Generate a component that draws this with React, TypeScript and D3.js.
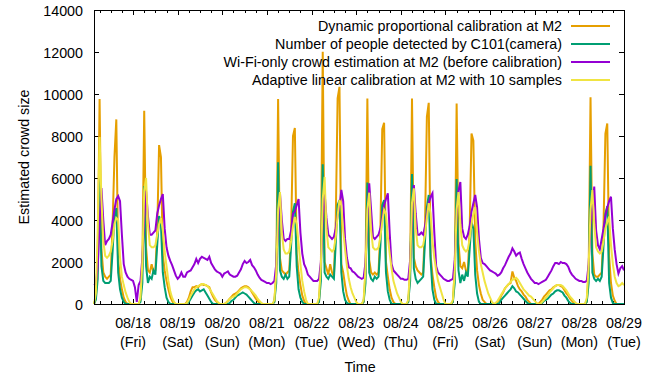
import React from 'react';
import * as d3 from 'd3';

// hourly samples, 2017-08-17 03:00 .. 2017-08-29 00:00
const startTime = new Date(2017, 7, 17, 3);
const endTime = new Date(2017, 7, 29, 0);

const dayLabels = ['08/18', '08/19', '08/20', '08/21', '08/22', '08/23', '08/24', '08/25', '08/26', '08/27', '08/28', '08/29'];
const weekdayLabels = ['(Fri)', '(Sat)', '(Sun)', '(Mon)', '(Tue)', '(Wed)', '(Thu)', '(Fri)', '(Sat)', '(Sun)', '(Mon)', '(Tue)'];
const yTicks = [0, 2000, 4000, 6000, 8000, 10000, 12000, 14000];

const seriesNames = [
  'Dynamic proportional calibration at M2',
  'Number of people detected by C101(camera)',
  'Wi-Fi-only crowd estimation at M2 (before calibration)',
  'Adaptive linear calibration at M2 with 10 samples',
];
const seriesColors = ['#e69f00', '#009e73', '#9400d3', '#f0e442'];

const dynamicM2 = [
  /* 17 */ 0, 300, 2000, 9760, 2600, 1500, 1300, 1200, 1300, 1400, 3800, 7000, 8790, 2100, 1200, 700, 300, 100, 0, 0, 0,
  /* 18 */ 0, 0, 0, 0, 200, 1800, 9200, 2700, 1600, 1500, 1900, 1500, 1600, 3500, 7570, 7000, 2300, 1600, 1100, 700, 350, 150, 0, 0,
  /* 19 */ 0, 0, 0, 0, 0, 100, 300, 600, 800, 800, 850, 800, 900, 950, 900, 900, 850, 800, 550, 350, 200, 100, 0, 0,
  /* 20 */ 0, 0, 50, 150, 250, 350, 450, 500, 550, 650, 750, 800, 850, 850, 800, 700, 550, 400, 250, 150, 50, 0, 0, 0,
  /* 21 */ 0, 0, 0, 0, 100, 1500, 9760, 2200, 1600, 1500, 1400, 1500, 1600, 3500, 8000, 8380, 2400, 1500, 900, 400, 150, 0, 0, 0,
  /* 22 */ 0, 0, 0, 0, 100, 1800, 12010, 2000, 1700, 1400, 1900, 1500, 1300, 4000, 9790, 10340, 1900, 1500, 900, 400, 150, 0, 0, 0,
  /* 23 */ 0, 0, 0, 0, 100, 1500, 9790, 2100, 1500, 1400, 1500, 1400, 1500, 3500, 8330, 8630, 2000, 1300, 700, 300, 100, 0, 0, 0,
  /* 24 */ 0, 0, 0, 0, 100, 1600, 9790, 2200, 1800, 1600, 1500, 1400, 1500, 3800, 8910, 9580, 2300, 1400, 800, 300, 100, 0, 0, 0,
  /* 25 */ 0, 0, 0, 0, 100, 1700, 9550, 2900, 1800, 1700, 2000, 1600, 1500, 3500, 8120, 7780, 3000, 1600, 900, 500, 200, 100, 0, 0,
  /* 26 */ 0, 0, 0, 0, 100, 200, 400, 550, 750, 850, 950, 1000, 1550, 1250, 1100, 850, 700, 600, 450, 350, 200, 100, 0, 0,
  /* 27 */ 0, 0, 0, 100, 200, 350, 450, 550, 650, 700, 800, 850, 900, 900, 850, 800, 650, 500, 400, 250, 150, 50, 0, 0,
  /* 28 */ 0, 0, 0, 0, 100, 1600, 9840, 2400, 1400, 1300, 1300, 1400, 1500, 3800, 8120, 8600, 2300, 1000, 400, 150, 0, 0, 0, 0,
  /* 29 */ 0,
];

const cameraC101 = [
  /* 17 */ 0, 200, 1200, 5990, 1800, 1100, 1000, 1000, 1000, 1100, 2500, 4200, 4570, 1500, 700, 300, 100, 0, 0, 0, 0,
  /* 18 */ 0, 0, 0, 0, 100, 1000, 5620, 1800, 1000, 1300, 1200, 1600, 1400, 2800, 4190, 3800, 1500, 800, 300, 100, 0, 0, 0, 0,
  /* 19 */ 0, 0, 0, 0, 0, 0, 100, 250, 400, 550, 650, 700, 600, 650, 700, 550, 400, 250, 100, 0, 0, 0, 0, 0,
  /* 20 */ 0, 0, 0, 0, 50, 150, 200, 300, 400, 450, 500, 550, 500, 450, 350, 250, 150, 50, 0, 0, 0, 0, 0, 0,
  /* 21 */ 0, 0, 0, 0, 100, 1000, 6750, 1600, 1300, 1200, 1400, 1200, 1300, 2800, 4400, 4800, 1800, 700, 300, 100, 0, 0, 0, 0,
  /* 22 */ 0, 0, 0, 0, 100, 1100, 6650, 1500, 1300, 1200, 1400, 1300, 1200, 2900, 4700, 4950, 1500, 600, 200, 50, 0, 0, 0, 0,
  /* 23 */ 0, 0, 0, 0, 100, 1000, 5780, 1500, 1200, 1100, 1300, 1200, 1300, 2800, 4700, 4950, 1500, 600, 200, 0, 0, 0, 0, 0,
  /* 24 */ 0, 0, 0, 0, 100, 1100, 6190, 1700, 1200, 1000, 1100, 1200, 1300, 3000, 4600, 5190, 2100, 700, 200, 0, 0, 0, 0, 0,
  /* 25 */ 0, 0, 0, 0, 100, 1000, 5950, 1600, 1000, 1400, 1100, 1500, 1300, 2600, 3900, 3600, 1400, 500, 100, 0, 0, 0, 0, 0,
  /* 26 */ 0, 0, 0, 0, 0, 50, 200, 300, 400, 500, 600, 700, 850, 750, 600, 550, 450, 350, 250, 150, 50, 0, 0, 0,
  /* 27 */ 0, 0, 0, 0, 50, 150, 200, 250, 350, 450, 500, 600, 650, 650, 600, 550, 400, 300, 150, 50, 0, 0, 0, 0,
  /* 28 */ 0, 0, 0, 0, 100, 1000, 6580, 1500, 1200, 1100, 1200, 1100, 1300, 2800, 4300, 4660, 1000, 300, 50, 0, 0, 0, 0, 0,
  /* 29 */ 0,
];

const wifiOnly = [
  /* 17 */ 900, 950, 1800, 3800, 5520, 4000, 2800, 3000, 3100, 3300, 3900, 4500, 5000, 5140, 4900, 3300, 1900, 1500, 1300, 1200, 1150,
  /* 18 */ 1100, 800, 100, 900, 1100, 2200, 4000, 5380, 4200, 3300, 3300, 3400, 3500, 4300, 4700, 5000, 5230, 3600, 2700, 2300, 2050, 1850, 1600, 1350,
  /* 19 */ 1200, 1300, 1500, 1300, 1300, 1500, 1550, 1600, 1750, 1900, 2150, 1950, 2150, 2250, 2200, 2150, 2100, 2250, 1950, 1800, 1650, 1550, 1500, 1450,
  /* 20 */ 1300, 1450, 1500, 1550, 1400, 1350, 1300, 1300, 1350, 1500, 1650, 1900, 2050, 1950, 2000, 2100, 1850, 1750, 1600, 1400, 1250, 1150, 1100, 1050,
  /* 21 */ 1000, 1000, 950, 1000, 1100, 1900, 3800, 5280, 4000, 3100, 3000, 3100, 3100, 3500, 4300, 4400, 4700, 5000, 3400, 2400, 1900, 1700, 1400, 1300,
  /* 22 */ 1200, 1100, 1100, 1100, 1200, 2000, 4000, 5300, 4100, 3300, 3200, 3100, 3200, 3600, 4200, 4600, 5430, 4900, 3100, 2200, 1750, 1700, 1550, 1500,
  /* 23 */ 1400, 1300, 1250, 1200, 1250, 2000, 4000, 5750, 4500, 3200, 3100, 3200, 3300, 3600, 4100, 4700, 5000, 5270, 3400, 1900, 1600, 1500, 1400, 1300,
  /* 24 */ 1200, 1200, 1150, 1150, 1200, 2100, 4100, 5660, 4300, 3300, 3300, 3400, 3300, 3700, 4300, 4800, 5100, 5270, 3400, 1800, 1500, 1400, 1300, 1200,
  /* 25 */ 1150, 1100, 1100, 1150, 1200, 2100, 4200, 5400, 5810, 3600, 3200, 3100, 3300, 3700, 4400, 4800, 5190, 4600, 3100, 2200, 1950, 1900, 1800, 1700,
  /* 26 */ 1600, 1550, 1500, 1450, 1350, 1400, 1500, 1700, 1850, 2050, 2250, 2400, 2650, 2500, 2300, 2400, 2450, 2150, 1900, 1700, 1500, 1350, 1200, 1100,
  /* 27 */ 1000, 1000, 950, 1000, 1050, 1100, 1150, 1300, 1450, 1600, 1800, 1950, 1950, 1900, 2000, 1950, 1950, 1900, 1780, 1550, 1400, 1300, 1200, 1150,
  /* 28 */ 1100, 1100, 1050, 1050, 1100, 1900, 3800, 4500, 5590, 3500, 2800, 2600, 3100, 3600, 4200, 4600, 4900, 5110, 3600, 2600, 1900, 1450, 1700, 1800,
  /* 29 */ 1600,
];

const adaptiveLinear = [
  /* 17 */ 0, 500, 3500, 7950, 5000, 3000, 2300, 2200, 2300, 2500, 3000, 3800, 4100, 4000, 2200, 1300, 900, 550, 300, 100, 0,
  /* 18 */ 0, 0, 0, 0, 300, 2000, 5400, 6000, 3800, 2800, 2700, 2700, 2800, 3300, 3800, 4090, 3500, 2500, 1800, 1100, 600, 300, 100, 0,
  /* 19 */ 0, 0, 0, 0, 0, 50, 200, 400, 550, 700, 800, 850, 900, 950, 950, 900, 850, 750, 600, 450, 300, 150, 50, 0,
  /* 20 */ 0, 0, 50, 150, 250, 300, 350, 400, 500, 600, 700, 750, 800, 800, 750, 700, 600, 500, 400, 250, 150, 50, 0, 0,
  /* 21 */ 0, 0, 0, 0, 200, 1500, 4500, 5330, 3400, 2600, 2400, 2400, 2500, 3000, 3700, 4140, 3800, 2900, 1900, 1100, 600, 200, 0, 0,
  /* 22 */ 0, 0, 0, 0, 300, 1800, 5000, 6050, 3600, 2700, 2600, 2500, 2600, 3200, 4200, 4950, 4700, 3500, 2600, 1800, 1200, 800, 500, 300,
  /* 23 */ 100, 0, 0, 0, 200, 1700, 4500, 5300, 3500, 2700, 2600, 2600, 2700, 3200, 3900, 4480, 4300, 3200, 2400, 1700, 1100, 800, 500, 300,
  /* 24 */ 100, 0, 0, 0, 200, 1800, 4800, 5510, 3600, 2800, 2700, 2700, 2800, 3300, 4100, 4800, 4300, 3000, 2200, 1600, 1100, 800, 500, 200,
  /* 25 */ 0, 0, 0, 0, 200, 1600, 4500, 5330, 3800, 2800, 2600, 2500, 2600, 3100, 3800, 4300, 4620, 3400, 2500, 1900, 1500, 1100, 800, 500,
  /* 26 */ 300, 100, 0, 50, 150, 300, 450, 600, 750, 850, 950, 1050, 1150, 1200, 1250, 1150, 1000, 850, 700, 600, 500, 400, 350, 250,
  /* 27 */ 150, 50, 0, 0, 100, 200, 300, 400, 550, 650, 750, 850, 900, 900, 900, 850, 750, 650, 500, 350, 250, 150, 50, 0,
  /* 28 */ 0, 0, 0, 0, 300, 1800, 4500, 5430, 3800, 2700, 2500, 2400, 2500, 3000, 3600, 3900, 4160, 2800, 1900, 1300, 1000, 850, 900, 1000,
  /* 29 */ 900,
];

const allSeries = [dynamicM2, cameraC101, wifiOnly, adaptiveLinear];

const font = '"Liberation Sans", Arial, Helvetica, sans-serif';

export default function App() {
  const left = 94, right = 624, top = 10, bottom = 304;

  const x = d3.scaleTime().domain([startTime, endTime]).range([left, right]);
  const y = d3.scaleLinear().domain([0, 14000]).range([bottom, top]);

  const line = d3.line<number>()
    .x((_, i) => x(d3.timeHour.offset(startTime, i)))
    .y(d => y(d));

  const sixHours = d3.timeHour.every(6)!.range(startTime, d3.timeMinute.offset(endTime, 1));
  const dayTicks = dayLabels.map((_, k) => new Date(2017, 7, 18 + k));

  const legendRows = [26, 44, 62, 80];

  return (
    <svg width={666} height={375} style={{ position: 'absolute', left: 0, top: 0, background: '#fff' }}
      fontFamily={font} fontSize={14.3}>
      <rect x={0} y={0} width={666} height={375} fill="#fff" />

      {/* ticks */}
      {sixHours.map((t, i) => {
        const major = t.getHours() === 0;
        const len = major ? 5 : 3;
        const xx = Math.round(x(t)) + 0.5;
        return (
          <g key={'xt' + i} stroke="#000" strokeWidth={1}>
            <line x1={xx} x2={xx} y1={bottom} y2={bottom - len} />
            <line x1={xx} x2={xx} y1={top} y2={top + len} />
          </g>
        );
      })}
      {yTicks.map(v => {
        const yy = Math.round(y(v)) + 0.5;
        return (
          <g key={'yt' + v}>
            <line x1={left} x2={left + 5} y1={yy} y2={yy} stroke="#000" />
            <line x1={right} x2={right - 5} y1={yy} y2={yy} stroke="#000" />
            <text x={83} y={yy + 5} textAnchor="end" fill="#000">{v}</text>
          </g>
        );
      })}

      {/* x labels */}
      {dayTicks.map((t, k) => (
        <g key={'xl' + k}>
          <text x={x(t)} y={328} textAnchor="middle">{dayLabels[k]}</text>
          <text x={x(t)} y={347} textAnchor="middle">{weekdayLabels[k]}</text>
        </g>
      ))}

      {/* series */}
      {allSeries.map((s, k) => (
        <path key={'s' + k} d={line(s) || ''} fill="none" stroke={seriesColors[k]} strokeWidth={2} />
      ))}

      {/* legend */}
      {seriesNames.map((n, k) => (
        <g key={'lg' + k}>
          <text x={562} y={legendRows[k] + 5} textAnchor="end">{n}</text>
          <line x1={571} x2={610} y1={legendRows[k]} y2={legendRows[k]} stroke={seriesColors[k]} strokeWidth={2} />
        </g>
      ))}

      {/* frame */}
      <rect x={left + 0.5} y={top + 0.5} width={right - left} height={bottom - top} fill="none" stroke="#000" strokeWidth={1} />

      <text x={360} y={372} textAnchor="middle">Time</text>
      <text transform="translate(29,157) rotate(-90)" textAnchor="middle">Estimated crowd size</text>
    </svg>
  );
}
